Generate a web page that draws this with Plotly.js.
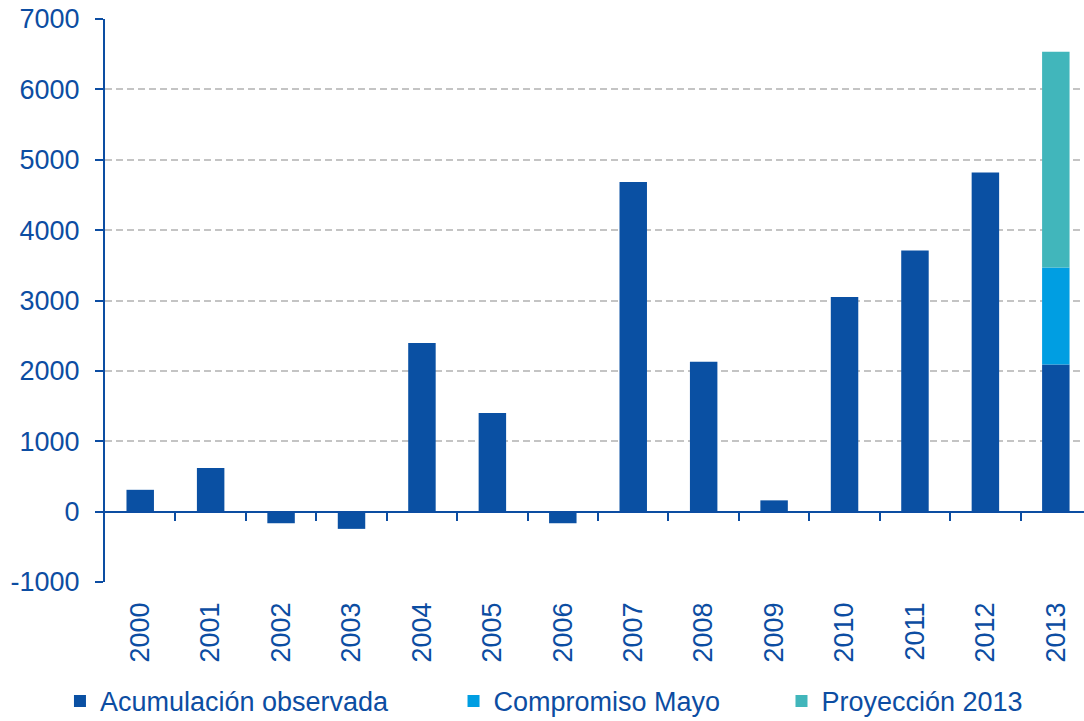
<!DOCTYPE html>
<html>
<head>
<meta charset="utf-8">
<script src="https://cdn.plot.ly/plotly-3.0.1.min.js"></script>
<style>html,body{margin:0;padding:0;background:#fff;}#chart{width:1084px;height:721px;}</style>
</head>
<body>
<div id="chart"></div>
<script>
const years = ["2000","2001","2002","2003","2004","2005","2006","2007","2008","2009","2010","2011","2012","2013"];
const observada = [310, 620, -165, -245, 2395, 1400, -165, 4685, 2130, 160, 3050, 3710, 4820, 2090];
const compromiso = [null, null, null, null, null, null, null, null, null, null, null, null, null, 1380];
const proyeccion = [null, null, null, null, null, null, null, null, null, null, null, null, null, 3065];
const yTicks = [-1000, 0, 1000, 2000, 3000, 4000, 5000, 6000, 7000];
const yTickText = ["-1000", "0", "1000", "2000", "3000", "4000", "5000", "6000", "7000"];
const names = ["Acumulación observada", "Compromiso Mayo", "Proyección 2013"];

const txt = "#0c4da2";
const font = {family: "Liberation Sans, Arial, sans-serif", size: 27, color: txt};
const yMin = -1000, yMax = 7000;
const idx = years.map((_, i) => i);

const traces = [
  {type: "bar", x: idx, y: observada, name: names[0], marker: {color: "#0a50a3"}, legend: "legend"},
  {type: "bar", x: idx, y: compromiso, name: names[1], marker: {color: "#009ee2"}, legend: "legend2"},
  {type: "bar", x: idx, y: proyeccion, name: names[2], marker: {color: "#41b6bb"}, legend: "legend3"},
  {type: "scatter", x: [0], y: [null], xaxis: "x2", showlegend: false, hoverinfo: "skip"}
];

const xr = [-0.5, years.length - 0.6];
const legBase = {orientation: "h", font: font, bgcolor: "rgba(0,0,0,0)", borderwidth: 0, yanchor: "middle", xanchor: "left", y: -0.212};

const layout = {
  width: 1084, height: 721,
  margin: {l: 105, r: 0, t: 19, b: 139, autoexpand: false},
  paper_bgcolor: "#fff", plot_bgcolor: "#fff",
  font: font,
  barmode: "relative",
  bargap: 0.61,
  xaxis: {
    type: "linear", range: xr, tickmode: "array", tickvals: idx, ticktext: years,
    tickangle: -90, ticks: "", showgrid: false, zeroline: false, showline: false,
    ticklabelstandoff: 14, fixedrange: true, automargin: false
  },
  xaxis2: {
    overlaying: "x", anchor: "free", position: (0 - yMin) / (yMax - yMin),
    type: "linear", range: xr, tickmode: "array", tickvals: idx.slice(1).map(i => i - 0.5),
    showticklabels: false, ticks: "outside", ticklen: 8, tickwidth: 2, tickcolor: txt,
    showline: true, linecolor: txt, linewidth: 2, showgrid: false, zeroline: false
  },
  yaxis: {
    range: [yMin, yMax], tickmode: "array", tickvals: yTicks, ticktext: yTickText,
    showline: true, linecolor: txt, linewidth: 2,
    ticks: "outside", ticklen: 8, tickwidth: 2, tickcolor: txt,
    showgrid: true, gridcolor: "#c4c4c4", gridwidth: 2, griddash: "7px,4px",
    zeroline: false, ticklabelstandoff: 10, automargin: false
  },
  legend: Object.assign({}, legBase, {x: -0.046}),
  legend2: Object.assign({}, legBase, {x: 0.356}),
  legend3: Object.assign({}, legBase, {x: 0.691}),
  showlegend: true
};

Plotly.newPlot("chart", traces, layout, {staticPlot: true, displayModeBar: false});
</script>
</body>
</html>
